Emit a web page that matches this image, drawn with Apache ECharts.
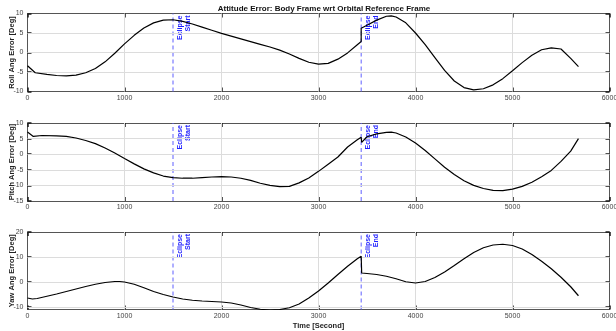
<!DOCTYPE html>
<html><head><meta charset="utf-8">
<script src="https://cdn.jsdelivr.net/npm/echarts@6/dist/echarts.min.js"></script>
<style>html,body{margin:0;padding:0;background:#fff}#c{width:616px;height:331px}</style>
</head><body><div id="c"></div>
<script>
const titleText = 'Attitude Error: Body Frame wrt Orbital Reference Frame';
const xTicks = [0, 1000, 2000, 3000, 4000, 5000, 6000];
const eclipseStart = 1500;
const eclipseEnd = 3440;
const eclipseLabels = ['Eclipse\nStart', 'Eclipse\nEnd'];

const tRoll = [0,80,200,300,400,500,600,700,800,900,1000,1100,1200,1300,1400,1500,1600,1700,1800,1900,2000,2100,2200,2300,2400,2500,2600,2700,2800,2900,3000,3100,3200,3300,3400,3440,3440,3500,3600,3700,3750,3800,3900,4000,4100,4200,4300,4400,4500,4600,4700,4800,4900,5000,5100,5200,5300,5400,5500,5600,5680];
const roll = [-3.4,-5.2,-5.6,-5.9,-6.0,-5.8,-5.2,-4.1,-2.4,-0.2,2.2,4.4,6.3,7.6,8.3,8.4,8.0,7.3,6.5,5.7,4.9,4.2,3.5,2.8,2.1,1.4,0.6,-0.4,-1.5,-2.5,-3.0,-2.8,-1.7,-0.1,2.0,2.8,6.2,7.0,8.3,9.3,9.4,9.1,7.6,5.0,2.0,-1.3,-4.6,-7.3,-9.0,-9.6,-9.3,-8.3,-6.7,-4.7,-2.6,-0.7,0.7,1.2,0.9,-1.5,-3.6];

const tPitch = [0,60,150,300,400,500,600,700,800,900,1000,1100,1200,1300,1400,1500,1600,1700,1800,1900,2000,2100,2200,2300,2400,2500,2600,2700,2800,2900,3000,3100,3200,3300,3400,3440,3445,3500,3600,3700,3750,3800,3900,4000,4100,4200,4300,4400,4500,4600,4700,4800,4900,5000,5100,5200,5300,5400,5500,5600,5680];
const pitch = [7.1,5.7,6.0,5.9,5.7,5.2,4.4,3.4,2.0,0.4,-1.4,-3.1,-4.7,-6.0,-7.0,-7.5,-7.7,-7.7,-7.5,-7.3,-7.2,-7.3,-7.7,-8.4,-9.3,-10.0,-10.4,-10.3,-9.2,-7.6,-5.5,-3.2,-0.9,2.3,4.6,5.4,3.8,5.6,6.5,7.0,7.1,6.8,5.5,3.6,1.2,-1.5,-4.2,-6.5,-8.5,-10.0,-11.0,-11.6,-11.7,-11.2,-10.3,-9.0,-7.2,-5.2,-2.3,1.0,5.0];

const tYaw = [0,50,100,200,300,400,500,600,700,800,900,950,1000,1100,1200,1300,1400,1500,1600,1700,1800,1900,2000,2100,2200,2300,2400,2500,2600,2700,2800,2900,3000,3100,3200,3300,3400,3440,3445,3500,3600,3700,3800,3900,4000,4100,4200,4300,4400,4500,4600,4700,4800,4900,5000,5100,5200,5300,5400,5500,5600,5680];
const yaw = [-6.4,-6.8,-6.6,-5.7,-4.8,-3.8,-2.8,-1.8,-0.9,-0.2,0.2,0.2,0.0,-0.9,-2.3,-3.8,-5.0,-6.0,-6.8,-7.3,-7.6,-7.8,-8.0,-8.4,-9.2,-10.2,-10.9,-11.2,-11.0,-10.3,-8.8,-6.4,-3.6,-0.4,3.0,6.3,9.3,10.3,3.6,3.4,3.0,2.3,1.3,0.1,-0.4,0.2,1.8,4.0,6.6,9.3,11.8,13.7,14.8,15.1,14.6,13.2,11.0,8.3,5.3,1.9,-1.9,-5.5];

const panels = [
  {name: 'Roll Ang Error [Deg]', t: tRoll, v: roll, min: -10, max: 10, ticks: [-10,-5,0,5,10], top: 13.5, height: 78},
  {name: 'Pitch Ang Error [Deg]', t: tPitch, v: pitch, min: -15, max: 10, ticks: [-15,-10,-5,0,5,10], top: 123, height: 78},
  {name: 'Yaw Ang Error [Deg]', t: tYaw, v: yaw, min: -11, max: 20, ticks: [-10,0,10,20], top: 232, height: 77.5}
];

const FONT = 'Liberation Sans, Arial, sans-serif';
const chart = echarts.init(document.getElementById('c'), null, {renderer: 'canvas'});
const grid = [], xAxis = [], yAxis = [], series = [];
const tickStyle = {show: true, inside: true, length: 4, lineStyle: {color: '#1a1a1a', width: 1.5}};
const lineAx = {show: true, onZero: false, lineStyle: {color: '#555', width: 1}};
const gridColor = '#dcdcdc';
const eclColor = '#5f5fff';

panels.forEach((p, i) => {
  grid.push({left: 27.5, width: 582, top: p.top, height: p.height, containLabel: false, outerBoundsMode: 'none'});
  xAxis.push({type: 'value', gridIndex: i, min: 0, max: 6000, interval: 1000, position: 'bottom',
    axisLine: lineAx, axisTick: tickStyle,
    axisLabel: {fontSize: 7, color: '#444', fontFamily: FONT, margin: 3, formatter: v => String(v)},
    splitLine: {show: false},
    name: i === 2 ? 'Time [Second]' : '', nameLocation: 'middle', nameGap: 12, nameMoveOverlap: false,
    nameTextStyle: {fontSize: 7.5, fontWeight: 'bold', color: '#222', fontFamily: FONT}});
  xAxis.push({type: 'value', gridIndex: i, min: 0, max: 6000, interval: 1000, position: 'top',
    axisLine: lineAx, axisTick: tickStyle, axisLabel: {show: false}, splitLine: {show: false}});
  yAxis.push({type: 'value', gridIndex: i, min: p.min, max: p.max, position: 'left',
    axisLine: lineAx,
    axisTick: Object.assign({}, tickStyle, {customValues: p.ticks}),
    axisLabel: {fontSize: 7, color: '#444', fontFamily: FONT, margin: 4, customValues: p.ticks, showMinLabel: true, showMaxLabel: true},
    splitLine: {show: false},
    name: p.name, nameLocation: 'middle', nameRotate: 90, nameGap: 12, nameMoveOverlap: false,
    nameTextStyle: {fontSize: 7.5, fontWeight: 'bold', color: '#222', fontFamily: FONT}});
  yAxis.push({type: 'value', gridIndex: i, min: p.min, max: p.max, position: 'right',
    axisLine: lineAx,
    axisTick: Object.assign({}, tickStyle, {customValues: p.ticks}),
    axisLabel: {show: false}, splitLine: {show: false}});
  // grid lines at tick values
  const gl = p.ticks.filter(v => v > p.min && v < p.max).map(v => ({yAxis: v}))
    .concat(xTicks.filter(v => v > 0 && v < 6000).map(v => ({xAxis: v})));
  series.push({type: 'line', xAxisIndex: 2*i, yAxisIndex: 2*i, data: [], silent: true, z: 1,
    markLine: {symbol: 'none', silent: true, animation: false, label: {show: false},
      lineStyle: {color: gridColor, width: 1, type: 'solid'}, emphasis: {disabled: true},
      data: gl}});
  // eclipse start / end vertical lines with labels
  [eclipseStart, eclipseEnd].forEach((ex, j) => {
    series.push({type: 'line', xAxisIndex: 2*i, yAxisIndex: 2*i, silent: true, animation: false, z: 3,
      symbol: 'circle', symbolSize: 0.01, showSymbol: true,
      lineStyle: {color: eclColor, width: 1, type: [4, 3]}, itemStyle: {color: eclColor},
      emphasis: {disabled: true},
      data: [
        {value: [ex, p.min], label: {show: false}},
        {value: [ex, p.max], label: {show: true, formatter: eclipseLabels[j], rotate: 90,
          position: [3, 2], align: 'right', verticalAlign: 'top',
          color: '#1f1fff', fontSize: 7, fontWeight: 'bold', fontFamily: FONT, lineHeight: 8}}
      ]});
  });
  series.push({type: 'line', xAxisIndex: 2*i, yAxisIndex: 2*i, showSymbol: false, animation: false, z: 5,
    lineStyle: {color: '#000', width: 1.2}, itemStyle: {color: '#000'},
    data: p.t.map((t, k) => [t, p.v[k]])});
});

chart.setOption({
  animation: false,
  title: {text: titleText, left: 319, textAlign: 'center', top: 0,
    textStyle: {fontSize: 8, fontWeight: 'bold', color: '#111', fontFamily: FONT}},
  grid, xAxis, yAxis, series
});
</script></body></html>
